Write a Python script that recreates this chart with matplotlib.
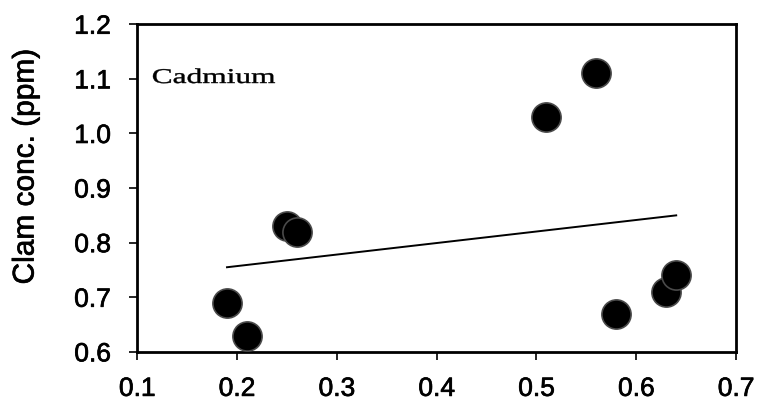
import numpy as np
import matplotlib.pyplot as plt
import matplotlib.patheffects as pe
from matplotlib.textpath import TextPath
from matplotlib.patches import PathPatch
from matplotlib.font_manager import FontProperties
from matplotlib.transforms import Affine2D

# data
x_vals = [0.19, 0.21, 0.25, 0.26, 0.51, 0.56, 0.58, 0.63, 0.64]
y_vals = [0.69, 0.63, 0.83, 0.82, 1.03, 1.11, 0.67, 0.71, 0.74]
line_x = [0.19, 0.64]
line_y = [0.755, 0.85]
x_ticks = [0.1, 0.2, 0.3, 0.4, 0.5, 0.6, 0.7]
y_ticks = [0.6, 0.7, 0.8, 0.9, 1.0, 1.1, 1.2]

plt.rcParams['font.family'] = ['Liberation Sans', 'DejaVu Sans']

fig = plt.figure(figsize=(7.62, 4.04), dpi=100)
ax = fig.add_axes([0.18, 0.129, 0.786, 0.811])

ax.plot(line_x, line_y, color="black", lw=1.4, zorder=2)
ax.plot(x_vals, y_vals, "o", ms=21, mfc="black", mec="#4a4a4a", mew=1.2, zorder=3)

ax.set_xlim(0.1, 0.7)
ax.set_ylim(0.6, 1.2)
ax.set_xticks(x_ticks)
ax.set_yticks(y_ticks)
# scanned lettering is a little heavier than plain Arial
thick = [pe.withStroke(linewidth=0.5, foreground="black")]
ax.set_xticklabels([f"{v:.1f}" for v in x_ticks], fontsize=19, path_effects=thick)
ax.set_yticklabels([f"{v:.1f}" for v in y_ticks], fontsize=19, path_effects=thick)
ax.tick_params(direction="out", length=6, width=1.2)
ax.tick_params(axis="y", pad=13)
ax.tick_params(axis="x", pad=12)
for s in ax.spines.values():
    s.set_linewidth(2)

ax.set_ylabel("Clam conc. (ppm)", fontsize=21.5, path_effects=thick)
ax.yaxis.set_label_coords(-0.163, 0.566)

# "Cadmium" label, stretched sideways like the original lettering
tp = TextPath((0, 0), "Cadmium", size=21, prop=FontProperties(family="Liberation Serif"))
ext = tp.get_extents()
sx = 122 / ext.width
tr = Affine2D().scale(sx, 1.0).translate(153 - ext.x0 * sx, 404 - 83)
ax.add_artist(PathPatch(tp, transform=tr, facecolor="black", edgecolor="black", lw=0.3))

fig.savefig("out.png", dpi=100)
